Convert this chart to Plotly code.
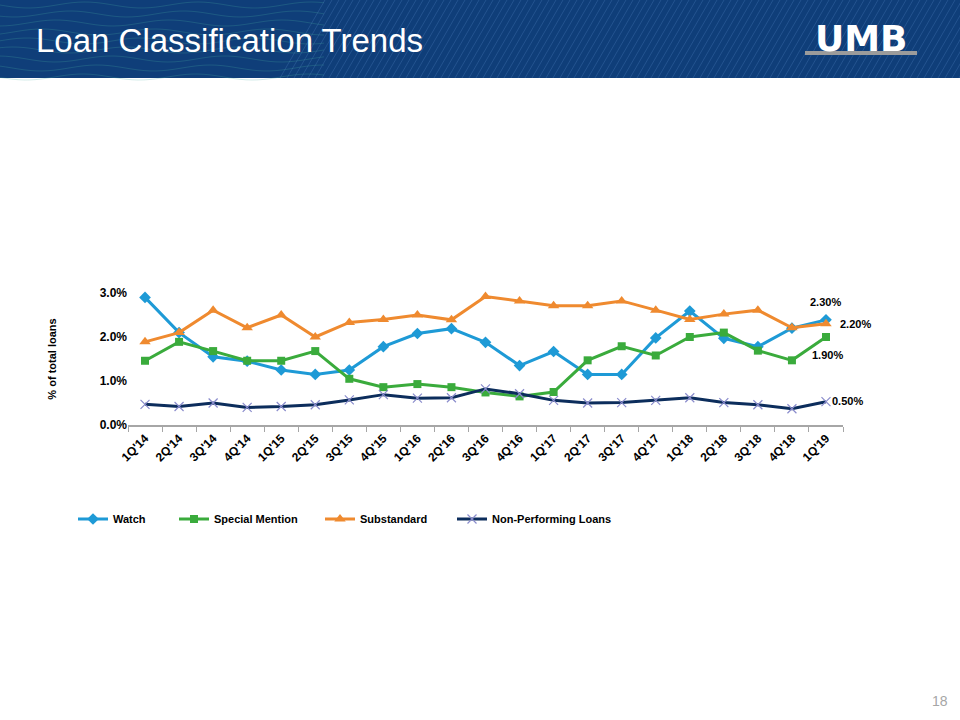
import plotly.graph_objects as go
import numpy as np

quarters = ["1Q'14", "2Q'14", "3Q'14", "4Q'14", "1Q'15", "2Q'15", "3Q'15", "4Q'15",
            "1Q'16", "2Q'16", "3Q'16", "4Q'16", "1Q'17", "2Q'17", "3Q'17", "4Q'17",
            "1Q'18", "2Q'18", "3Q'18", "4Q'18", "1Q'19"]
watch = [2.9, 2.1, 1.55, 1.45, 1.25, 1.15, 1.25, 1.78, 2.08, 2.19, 1.88, 1.35, 1.67,
         1.15, 1.15, 1.98, 2.59, 1.97, 1.78, 2.2, 2.39]
special_mention = [1.46, 1.89, 1.68, 1.46, 1.46, 1.68, 1.05, 0.86, 0.93, 0.86, 0.74, 0.65,
                   0.75, 1.47, 1.79, 1.58, 2.0, 2.1, 1.69, 1.47, 2.0]
substandard = [1.89, 2.1, 2.61, 2.21, 2.5, 2.0, 2.33, 2.4, 2.5, 2.39, 2.92, 2.82, 2.71,
               2.71, 2.82, 2.61, 2.4, 2.52, 2.61, 2.21, 2.3]
npl = [0.47, 0.42, 0.5, 0.4, 0.42, 0.46, 0.57, 0.69, 0.61, 0.62, 0.82, 0.71, 0.56,
       0.5, 0.51, 0.56, 0.62, 0.51, 0.46, 0.37, 0.53]
end_labels = ["2.30%", "2.20%", "1.90%", "0.50%"]
y_tickvals = [0, 1, 2, 3]
y_ticktext = ["0.0%", "1.0%", "2.0%", "3.0%"]

W, H = 960, 720
L, R, T, B = 128, 117, 293, 295
PW, PH = W - L - R, H - T - B


def px(x):
    return (x - L) / PW


def py(y):
    return (H - B - y) / PH


FONT = "Liberation Sans, Arial, sans-serif"
C_WATCH = "#1e9ad6"
C_SM = "#3aab3c"
C_SUB = "#ef8a2f"
C_NPL = "#0c2d5c"

fig = go.Figure()
fig.add_trace(go.Scatter(x=quarters, y=watch, name="Watch", mode="lines+markers",
                         line=dict(color=C_WATCH, width=3), legend="legend",
                         marker=dict(symbol="diamond", size=9, color=C_WATCH)))
fig.add_trace(go.Scatter(x=quarters, y=special_mention, name="Special Mention", mode="lines+markers",
                         line=dict(color=C_SM, width=3), legend="legend2",
                         marker=dict(symbol="square", size=8, color=C_SM)))
fig.add_trace(go.Scatter(x=quarters, y=substandard, name="Substandard", mode="lines+markers",
                         line=dict(color=C_SUB, width=3), legend="legend3",
                         marker=dict(symbol="triangle-up", size=10, color=C_SUB)))
fig.add_trace(go.Scatter(x=quarters, y=npl, name="Non-Performing Loans", mode="lines+markers",
                         line=dict(color=C_NPL, width=3), legend="legend4",
                         marker=dict(symbol="x-thin", size=9, color="#8a8ccc",
                                     line=dict(color="#8a8ccc", width=1.2))))

# end-point data labels
lab_specs = [(watch[-1], 0, 18), (substandard[-1], 30, 0), (special_mention[-1], 2, -18), (npl[-1], 22, 1)]
for txt, (yv, xs, ys) in zip(end_labels, lab_specs):
    fig.add_annotation(x=quarters[-1], y=yv, text=txt, showarrow=False, xshift=xs, yshift=ys,
                       font=dict(family=FONT, size=11, color="#000000", weight="bold"))

shapes = []
# header banner
shapes.append(dict(type="rect", xref="paper", yref="paper", x0=px(0), x1=px(W), y0=py(0), y1=py(78),
                   fillcolor="#0f3e79", line=dict(width=0), layer="above"))
# diagonal stripes decoration
segs = []
for x0 in np.arange(280, 1000, 7):
    segs.append(f"M{px(x0):.5f},{py(78):.5f} L{px(x0 + 45):.5f},{py(0):.5f}")
shapes.append(dict(type="path", xref="paper", yref="paper", path=" ".join(segs),
                   line=dict(color="rgba(110,160,225,0.22)", width=1), layer="above"))
# waves decoration
for k, base in enumerate(range(5, 80, 9)):
    xs = np.arange(0, 330, 6)
    ys = base + 3 * np.sin(xs / 18.0 + k * 0.8)
    path = "M" + " L".join(f"{px(a):.5f},{py(b):.5f}" for a, b in zip(xs, ys))
    shapes.append(dict(type="path", xref="paper", yref="paper", path=path,
                       line=dict(color="rgba(70,170,160,0.25)", width=1), layer="above"))
# logo underline
shapes.append(dict(type="rect", xref="paper", yref="paper", x0=px(805), x1=px(917), y0=py(51), y1=py(55),
                   fillcolor="#9b9b9b", line=dict(width=0), layer="above"))

fig.add_annotation(xref="paper", yref="paper", x=px(34), y=py(40), xanchor="left", yanchor="middle",
                   text="Loan Classification Trends", showarrow=False,
                   font=dict(family=FONT, size=33, color="#ffffff"))
fig.add_annotation(xref="paper", yref="paper", x=px(861), y=py(38), xanchor="center", yanchor="middle",
                   text="UMB", showarrow=False,
                   font=dict(family="DejaVu Sans, sans-serif", size=36, color="#ffffff", weight="bold"))
fig.add_annotation(xref="paper", yref="paper", x=px(940), y=py(701), xanchor="center", yanchor="middle",
                   text="18", showarrow=False,
                   font=dict(family=FONT, size=14, color="#a6a6a6"))

leg_font = dict(family=FONT, size=11, color="#000000", weight="bold")
legends = {}
for key, lx in zip(["legend", "legend2", "legend3", "legend4"], [73, 174, 320, 452]):
    legends[key] = dict(orientation="h", x=px(lx), y=py(519), xanchor="left", yanchor="middle",
                        font=leg_font, itemwidth=30, bgcolor="rgba(0,0,0,0)")

fig.update_layout(
    width=W, height=H,
    margin=dict(l=L, r=R, t=T, b=B, pad=0),
    paper_bgcolor="#ffffff", plot_bgcolor="#ffffff",
    font=dict(family=FONT, size=12, color="#000000"),
    shapes=shapes,
    showlegend=True,
    **legends,
    xaxis=dict(type="category", showgrid=False, zeroline=False, showline=True,
               linecolor="#a6a6a6", linewidth=1.5, ticks="outside", tickson="boundaries",
               ticklen=5, tickcolor="#a6a6a6", tickangle=-45,
               tickfont=dict(family=FONT, size=12, color="#000000", weight="bold"),
               range=[-0.5, len(quarters) - 0.5]),
    yaxis=dict(range=[0, 3.0], tickvals=y_tickvals, ticktext=y_ticktext,
               showgrid=False, zeroline=False, showline=False, ticks="",
               tickfont=dict(family=FONT, size=12, color="#000000", weight="bold"),
               title=dict(text="% of total loans", standoff=40,
                          font=dict(family=FONT, size=11, color="#000000", weight="bold"))),
)
for tr in fig.data:
    tr.cliponaxis = False

fig.write_html("out.html", config={"displayModeBar": False},
               post_script="document.body.style.margin='0px';document.body.style.overflow='hidden';")
